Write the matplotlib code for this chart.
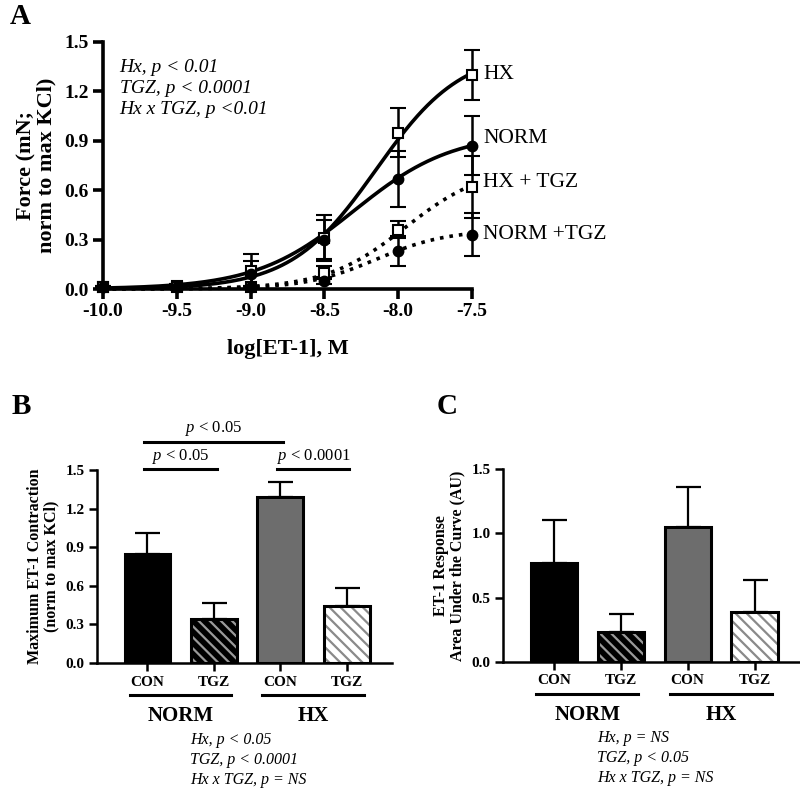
import numpy as np
import matplotlib.pyplot as plt

plt.rcParams['font.family'] = ['Liberation Serif', 'DejaVu Serif']
plt.rcParams['mathtext.fontset'] = 'custom'
plt.rcParams['mathtext.rm'] = 'Liberation Serif'
plt.rcParams['mathtext.it'] = 'Liberation Serif:italic'
plt.rcParams['hatch.linewidth'] = 1.6

# ---- panel A: concentration-response ----
log_et1 = [-10.0, -9.5, -9.0, -8.5, -8.0, -7.5]
hx = [0.01, 0.02, 0.11, 0.31, 0.95, 1.30]
hx_sem = [0.01, 0.01, 0.10, 0.14, 0.15, 0.15]
norm = [0.01, 0.02, 0.09, 0.30, 0.67, 0.87]
norm_sem = [0.01, 0.01, 0.08, 0.12, 0.17, 0.18]
hx_tgz = [0.01, 0.01, 0.01, 0.10, 0.36, 0.62]
hx_tgz_sem = [0.005, 0.005, 0.01, 0.04, 0.05, 0.19]
norm_tgz = [0.01, 0.01, 0.01, 0.05, 0.23, 0.33]
norm_tgz_sem = [0.005, 0.005, 0.01, 0.02, 0.09, 0.13]

# sigmoid fit parameters (top, logEC50, hill slope)
fit_hx = (1.45, -8.15, 1.5)
fit_norm = (0.95, -8.30, 1.3)
fit_hx_tgz = (0.75, -7.95, 1.6)
fit_norm_tgz = (0.36, -8.15, 1.8)

# ---- panels B, C: bars ----
bar_labels = ['CON', 'TGZ', 'CON', 'TGZ']
groups = ['NORM', 'HX']
max_contr = [0.85, 0.34, 1.29, 0.44]
max_contr_sem = [0.16, 0.125, 0.12, 0.145]
auc = [0.77, 0.23, 1.05, 0.385]
auc_sem = [0.335, 0.145, 0.31, 0.25]

W, H = 800, 788
fig = plt.figure(figsize=(8, 7.88), dpi=100)


def px_axes(x0, y0, x1, y1):
    return fig.add_axes([x0 / W, 1 - y1 / H, (x1 - x0) / W, (y1 - y0) / H])


def hill(x, p):
    top, ec50, h = p
    return top / (1 + 10 ** (h * (ec50 - x)))


# ===== A =====
ax = px_axes(103, 42, 472, 289)
xs = np.linspace(-10, -7.5, 300)
series = [
    (hx, hx_sem, fit_hx, 's', 'white', '-', 'HX'),
    (norm, norm_sem, fit_norm, 'o', 'black', '-', 'NORM'),
    (hx_tgz, hx_tgz_sem, fit_hx_tgz, 's', 'white', ':', 'HX + TGZ'),
    (norm_tgz, norm_tgz_sem, fit_norm_tgz, 'o', 'black', ':', 'NORM +TGZ'),
]
label_dy = [0, 5, 3, 0]
for (y, e, p, m, fc, ls, lab), dy in zip(series, label_dy):
    ax.plot(xs, hill(xs, p), color='black', lw=2.6, ls=ls, clip_on=False, zorder=2)
    ax.errorbar(log_et1, y, yerr=e, fmt=m, mfc=fc, mec='black', mew=1.5, ms=7,
                ecolor='black', elinewidth=1.8, capsize=6, capthick=1.8,
                clip_on=False, zorder=3)
    ax.annotate(lab, (log_et1[-1], y[-1]), xytext=(8, dy), textcoords='offset points',
                va='center', ha='left', fontsize=15.5, annotation_clip=False)

ax.set_xlim(-10, -7.5)
ax.set_ylim(0, 1.5)
ax.set_xticks(log_et1)
ax.set_xticklabels([f'{v:.1f}' for v in log_et1])
ax.set_yticks([0, 0.3, 0.6, 0.9, 1.2, 1.5])
ax.set_yticklabels(['0.0', '0.3', '0.6', '0.9', '1.2', '1.5'])
for s in ['top', 'right']:
    ax.spines[s].set_visible(False)
for s in ['left', 'bottom']:
    ax.spines[s].set_linewidth(2.6)
ax.tick_params(width=2.6, length=7, labelsize=14, pad=3)
for t in ax.get_xticklabels() + ax.get_yticklabels():
    t.set_fontweight('bold')
ax.set_xlabel('log[ET-1], M', fontsize=16, fontweight='bold', labelpad=14)
ax.set_ylabel('Force (mN;\nnorm to max KCl)', fontsize=16, fontweight='bold',
              labelpad=6, linespacing=1.0)
ax.text(0.045, 0.93, 'Hx, p < 0.01\nTGZ, p < 0.0001\nHx x TGZ, p <0.01',
        transform=ax.transAxes, fontsize=14, style='italic', va='top',
        linespacing=1.3)
fig.text(10 / W, 1 - 17 / H, 'A', fontsize=21, fontweight='bold', va='center')


# ===== bar panels =====
def bar_panel(box, vals, sems, yticks, ylabel, stats, stats_xy):
    ax = px_axes(*box)
    xpos = np.arange(len(vals))
    faces = ['black', 'black', '#6d6d6d', 'white']
    hatches = [None, '\\\\\\', None, '\\\\\\']
    hcols = ['black', '#9a9a9a', '#6d6d6d', '#8a8a8a']
    ax.errorbar(xpos, vals, yerr=[np.zeros(len(sems)), sems], fmt='none',
                ecolor='black', elinewidth=1.6, capsize=9, capthick=1.6, zorder=1)
    ax.bar(xpos, vals, width=0.69, color=faces, hatch=hatches, edgecolor=hcols,
           linewidth=0, zorder=2)
    ax.bar(xpos, vals, width=0.69, fill=False, edgecolor='black', linewidth=2.2, zorder=3)
    ax.set_xlim(-0.76, 3.68)
    ax.set_ylim(0, 1.5)
    ax.set_yticks(yticks)
    ax.set_yticklabels([f'{v:.1f}' for v in yticks])
    ax.set_xticks(xpos)
    ax.set_xticklabels(bar_labels)
    for s in ['top', 'right']:
        ax.spines[s].set_visible(False)
    for s in ['left', 'bottom']:
        ax.spines[s].set_linewidth(1.8)
    ax.tick_params(width=1.8, length=6, labelsize=11, pad=3)
    for t in ax.get_xticklabels() + ax.get_yticklabels():
        t.set_fontweight('bold')
    ax.set_ylabel(ylabel, fontsize=11.5, fontweight='bold', labelpad=4, linespacing=1.1)
    tr = ax.get_xaxis_transform()
    for g, name in enumerate(groups):
        c = 2 * g
        ax.plot([c - 0.27, c + 1.26], [-0.168, -0.168], color='black', lw=2.2,
                transform=tr, clip_on=False)
        ax.text(c + 0.5, -0.275, name, transform=tr, ha='center', va='center',
                fontsize=15, fontweight='bold')
    fig.text(stats_xy[0] / W, 1 - stats_xy[1] / H, stats, style='italic',
             fontsize=11.5, va='top', linespacing=1.35)
    return ax


axb = bar_panel((97, 470, 392, 663), max_contr, max_contr_sem,
                [0, 0.3, 0.6, 0.9, 1.2, 1.5],
                'Maximum ET-1 Contraction\n(norm to max KCl)',
                'Hx, p < 0.05\nTGZ, p < 0.0001\nHx x TGZ, p = NS', (190, 732))
brackets = [(0, 2, 1.72, '$\\it{p}$ < 0.05'), (0, 1, 1.505, '$\\it{p}$ < 0.05'),
            (2, 3, 1.505, '$\\it{p}$ < 0.0001')]
for a, b, yb, txt in brackets:
    axb.plot([a - 0.05, b + 0.04], [yb, yb], color='black', lw=2.2, clip_on=False)
    axb.text((a + b) / 2, yb + 0.025, txt, ha='center', va='bottom', fontsize=12)
fig.text(12 / W, 1 - 406 / H, 'B', fontsize=21, fontweight='bold', va='center')

axc = bar_panel((503, 469, 800, 662), auc, auc_sem, [0, 0.5, 1.0, 1.5],
                'ET-1 Response\nArea Under the Curve (AU)',
                'Hx, p = NS\nTGZ, p < 0.05\nHx x TGZ, p = NS', (597, 730))
fig.text(437 / W, 1 - 407 / H, 'C', fontsize=21, fontweight='bold', va='center')

fig.savefig('out.png', dpi=100)
